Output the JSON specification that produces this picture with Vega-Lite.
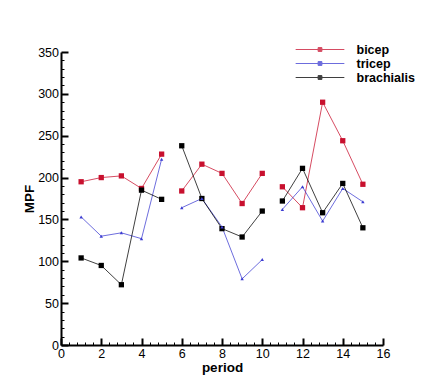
{
  "$schema": "https://vega.github.io/schema/vega-lite/v6.json",
  "width": 322,
  "height": 293,
  "autosize": {"type": "none"},
  "padding": {"left": 61, "top": 52, "right": 46, "bottom": 42},
  "background": "white",
  "config": {
    "view": {"stroke": null},
    "font": "Liberation Sans",
    "axis": {"grid": false, "domainColor": "black", "domainWidth": 2, "tickColor": "black", "labelFont": "Liberation Sans", "labelFontSize": 12.5, "labelColor": "black", "titleFont": "Liberation Sans", "titleFontSize": 13.5, "titleFontWeight": "bold", "titleColor": "black"}
  },
  "data": {
    "values": [
      {"period": 1, "muscle": "bicep", "seg": "a", "MPF": 195},
      {"period": 2, "muscle": "bicep", "seg": "a", "MPF": 200},
      {"period": 3, "muscle": "bicep", "seg": "a", "MPF": 202},
      {"period": 4, "muscle": "bicep", "seg": "a", "MPF": 187},
      {"period": 5, "muscle": "bicep", "seg": "a", "MPF": 228},
      {"period": 6, "muscle": "bicep", "seg": "b", "MPF": 184},
      {"period": 7, "muscle": "bicep", "seg": "b", "MPF": 216},
      {"period": 8, "muscle": "bicep", "seg": "b", "MPF": 205},
      {"period": 9, "muscle": "bicep", "seg": "b", "MPF": 169},
      {"period": 10, "muscle": "bicep", "seg": "b", "MPF": 205},
      {"period": 11, "muscle": "bicep", "seg": "c", "MPF": 189},
      {"period": 12, "muscle": "bicep", "seg": "c", "MPF": 164},
      {"period": 13, "muscle": "bicep", "seg": "c", "MPF": 290},
      {"period": 14, "muscle": "bicep", "seg": "c", "MPF": 244},
      {"period": 15, "muscle": "bicep", "seg": "c", "MPF": 192},
      {"period": 1, "muscle": "tricep", "seg": "a", "MPF": 153},
      {"period": 2, "muscle": "tricep", "seg": "a", "MPF": 130},
      {"period": 3, "muscle": "tricep", "seg": "a", "MPF": 134},
      {"period": 4, "muscle": "tricep", "seg": "a", "MPF": 127},
      {"period": 5, "muscle": "tricep", "seg": "a", "MPF": 222},
      {"period": 6, "muscle": "tricep", "seg": "b", "MPF": 164},
      {"period": 7, "muscle": "tricep", "seg": "b", "MPF": 175},
      {"period": 8, "muscle": "tricep", "seg": "b", "MPF": 141},
      {"period": 9, "muscle": "tricep", "seg": "b", "MPF": 79},
      {"period": 10, "muscle": "tricep", "seg": "b", "MPF": 102},
      {"period": 11, "muscle": "tricep", "seg": "c", "MPF": 162},
      {"period": 12, "muscle": "tricep", "seg": "c", "MPF": 189},
      {"period": 13, "muscle": "tricep", "seg": "c", "MPF": 148},
      {"period": 14, "muscle": "tricep", "seg": "c", "MPF": 187},
      {"period": 15, "muscle": "tricep", "seg": "c", "MPF": 171},
      {"period": 1, "muscle": "brachialis", "seg": "a", "MPF": 104},
      {"period": 2, "muscle": "brachialis", "seg": "a", "MPF": 95},
      {"period": 3, "muscle": "brachialis", "seg": "a", "MPF": 72},
      {"period": 4, "muscle": "brachialis", "seg": "a", "MPF": 185},
      {"period": 5, "muscle": "brachialis", "seg": "a", "MPF": 174},
      {"period": 6, "muscle": "brachialis", "seg": "b", "MPF": 238},
      {"period": 7, "muscle": "brachialis", "seg": "b", "MPF": 175},
      {"period": 8, "muscle": "brachialis", "seg": "b", "MPF": 139},
      {"period": 9, "muscle": "brachialis", "seg": "b", "MPF": 129},
      {"period": 10, "muscle": "brachialis", "seg": "b", "MPF": 160},
      {"period": 11, "muscle": "brachialis", "seg": "c", "MPF": 172},
      {"period": 12, "muscle": "brachialis", "seg": "c", "MPF": 211},
      {"period": 13, "muscle": "brachialis", "seg": "c", "MPF": 158},
      {"period": 14, "muscle": "brachialis", "seg": "c", "MPF": 193},
      {"period": 15, "muscle": "brachialis", "seg": "c", "MPF": 140}
    ]
  },
  "encoding": {
    "x": {
      "field": "period", "type": "quantitative",
      "scale": {"domain": [0, 16], "nice": false, "zero": false},
      "axis": {
        "title": "period", "titlePadding": -3,
        "values": [0, 0.4, 0.8, 1.2, 1.6, 2, 2.4, 2.8, 3.2, 3.6, 4, 4.4, 4.8, 5.2, 5.6, 6, 6.4, 6.8, 7.2, 7.6, 8, 8.4, 8.8, 9.2, 9.6, 10, 10.4, 10.8, 11.2, 11.6, 12, 12.4, 12.8, 13.2, 13.6, 14, 14.4, 14.8, 15.2, 15.6, 16],
        "labelExpr": "abs(datum.value / 2 - round(datum.value / 2)) < 0.001 ? format(datum.value, 'd') : ''",
        "tickSize": {"condition": {"test": "abs(datum.value / 2 - round(datum.value / 2)) < 0.001", "value": -7}, "value": -3},
        "tickWidth": {"condition": {"test": "abs(datum.value / 2 - round(datum.value / 2)) < 0.001", "value": 2}, "value": 1},
        "labelPadding": 9, "labelFlush": false, "labelOverlap": false
      }
    },
    "y": {
      "field": "MPF", "type": "quantitative",
      "scale": {"domain": [0, 350], "nice": false},
      "axis": {
        "title": "MPF", "titlePadding": 1,
        "values": [0, 10, 20, 30, 40, 50, 60, 70, 80, 90, 100, 110, 120, 130, 140, 150, 160, 170, 180, 190, 200, 210, 220, 230, 240, 250, 260, 270, 280, 290, 300, 310, 320, 330, 340, 350],
        "labelExpr": "datum.value % 50 === 0 ? format(datum.value, 'd') : ''",
        "tickSize": {"condition": {"test": "datum.value % 50 === 0", "value": -7}, "value": -3},
        "tickWidth": {"condition": {"test": "datum.value % 50 === 0", "value": 2}, "value": 1},
        "labelPadding": 9.5, "labelFlush": false, "labelOverlap": false
      }
    },
    "color": {
      "field": "muscle", "type": "nominal",
      "scale": {"domain": ["bicep", "tricep", "brachialis"], "range": ["#c8102e", "#3c3cd2", "#000000"]},
      "legend": {
        "title": null,
        "orient": "none", "legendX": 252, "legendY": -9.5,
        "padding": 0, "rowPadding": 0,
        "symbolType": "M-3.85,0H3.85M-0.3,-0.3H0.3V0.3H-0.3Z",
        "symbolSize": 160, "symbolStrokeWidth": 1,
        "labelFont": "Liberation Sans", "labelFontSize": 12.5, "labelFontWeight": "bold", "labelColor": "black",
        "labelOffset": 29.5
      }
    },
    "detail": {"field": "seg"}
  },
  "layer": [
    {
      "mark": {"type": "line", "strokeWidth": 1, "opacity": 0.75}
    },
    {
      "transform": [{"filter": "datum.muscle !== 'tricep'"}],
      "mark": {"type": "point", "filled": true, "opacity": 1, "shape": "square", "size": 28}
    },
    {
      "transform": [{"filter": "datum.muscle === 'tricep'"}],
      "mark": {"type": "point", "filled": true, "opacity": 1, "shape": "triangle-up", "size": 12}
    }
  ]
}
